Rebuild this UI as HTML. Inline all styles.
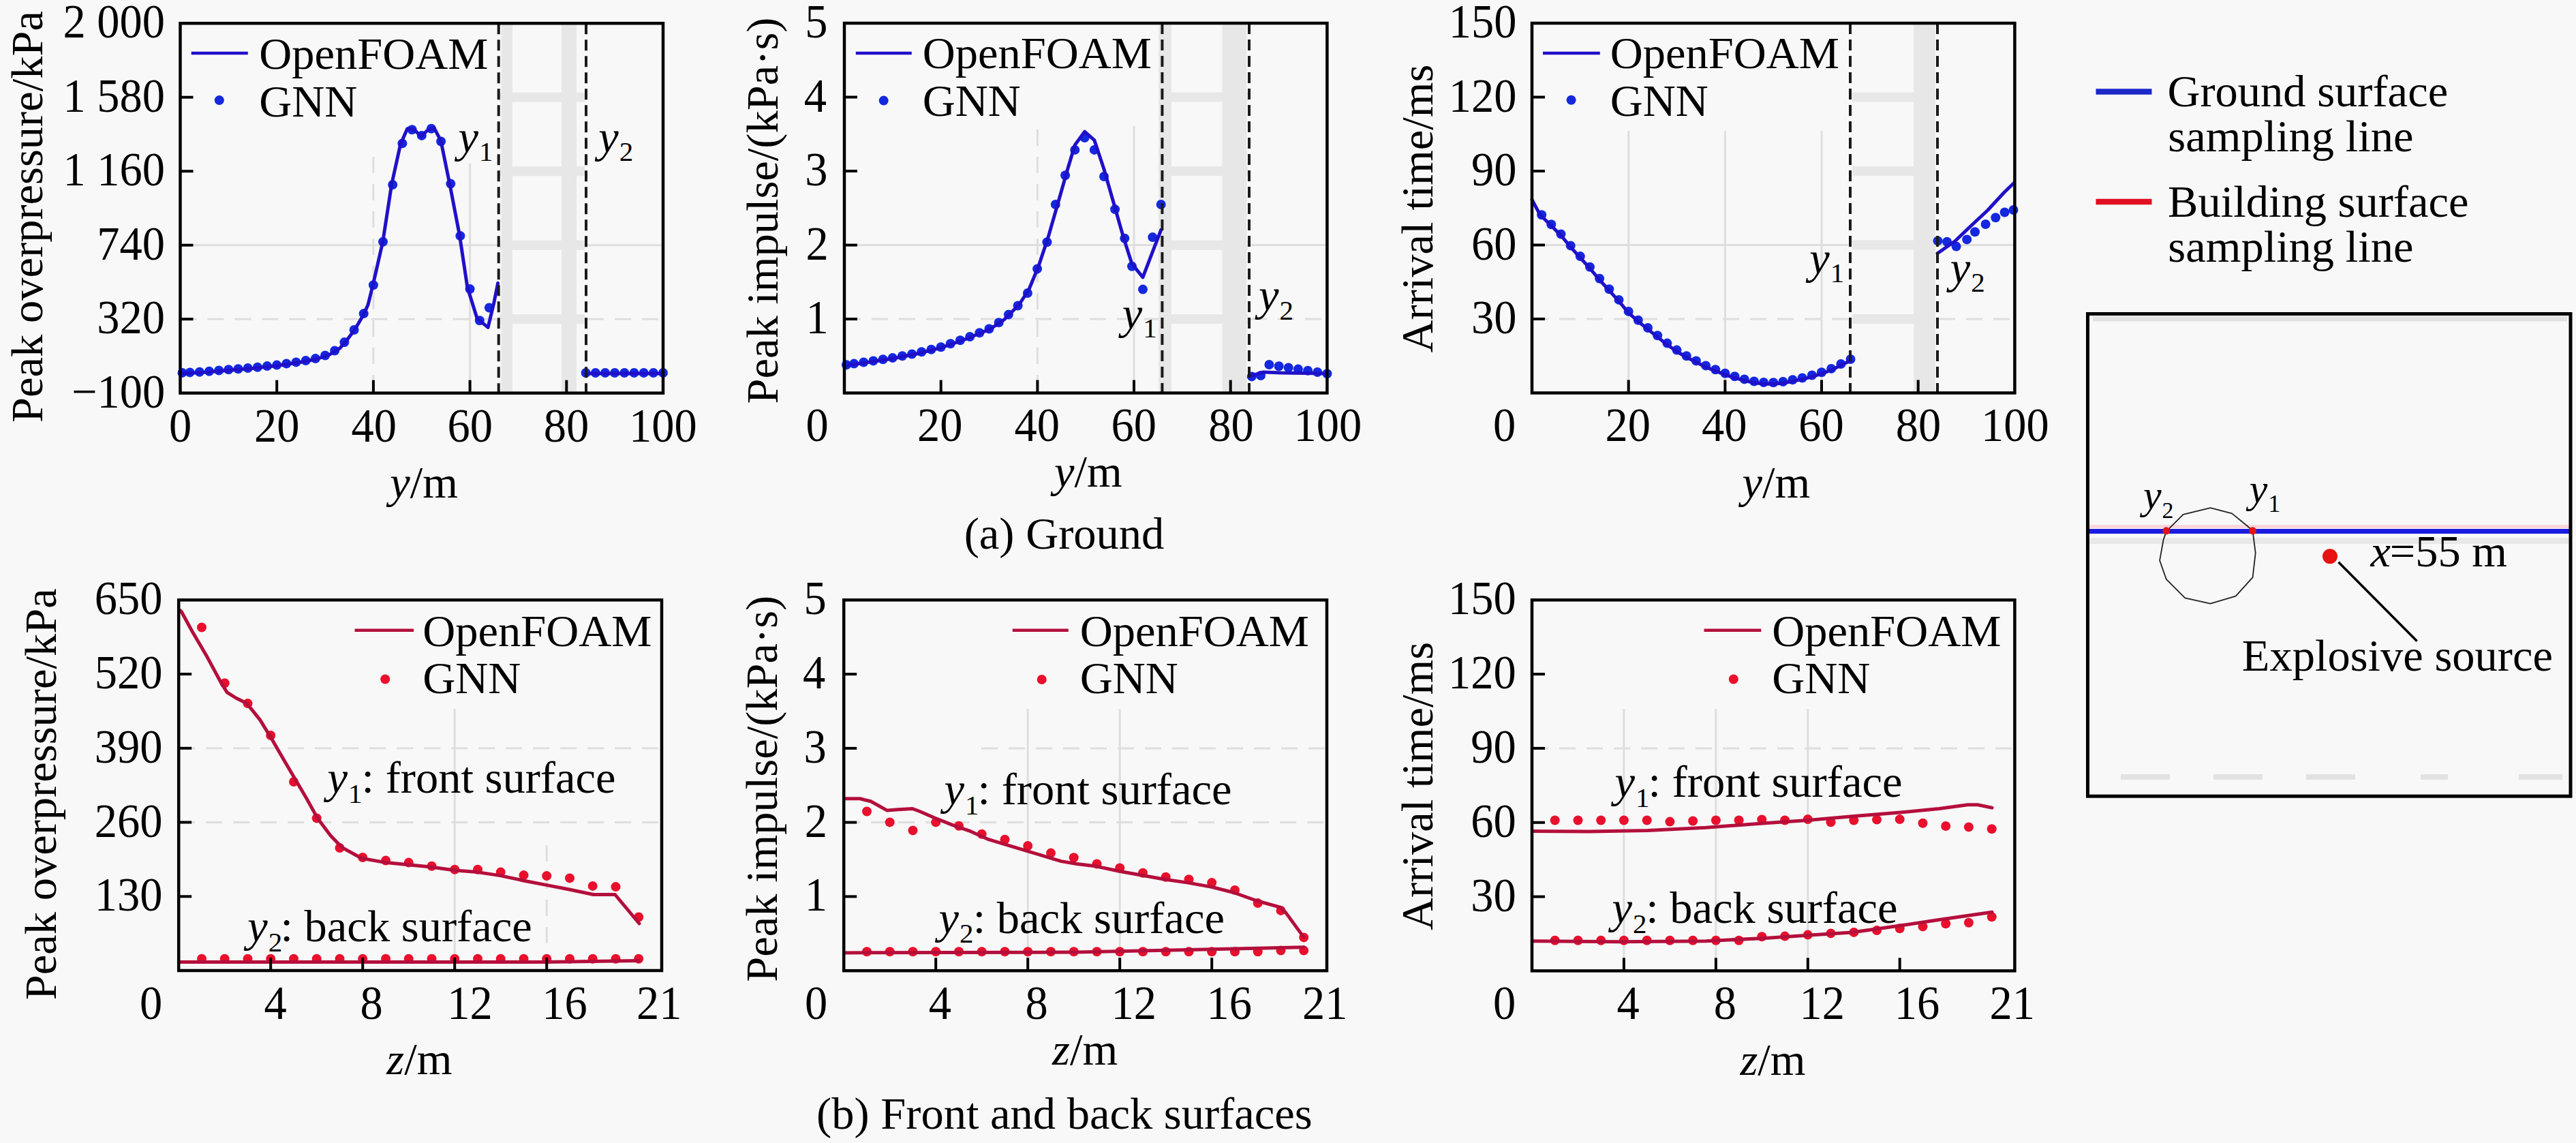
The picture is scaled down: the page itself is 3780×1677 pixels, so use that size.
<!DOCTYPE html>
<html><head><meta charset="utf-8"><title>Figure</title>
<style>html,body{margin:0;padding:0;background:#f8f8f8;}svg{display:block;}
text{font-family:"Liberation Serif","Times New Roman",serif;fill:#000;}</style></head>
<body><svg width="3780" height="1677" viewBox="0 0 3780 1677">
<rect width="3780" height="1677" fill="#f8f8f8"/>
<line x1="264.5" y1="359.7" x2="733.0" y2="359.7" stroke="#dedede" stroke-width="3"/>
<line x1="264.5" y1="468.2" x2="733.0" y2="468.2" stroke="#dedede" stroke-width="3" stroke-dasharray="24 16"/>
<line x1="547.9" y1="230.0" x2="547.9" y2="576.7" stroke="#dedede" stroke-width="3" stroke-dasharray="24 16"/>
<line x1="689.6" y1="240.0" x2="689.6" y2="576.7" stroke="#dedede" stroke-width="3"/>
<line x1="862.0" y1="359.7" x2="973.0" y2="359.7" stroke="#dedede" stroke-width="3"/>
<line x1="862.0" y1="468.2" x2="973.0" y2="468.2" stroke="#dedede" stroke-width="3" stroke-dasharray="24 16"/>
<rect x="735.5" y="34.2" width="16.3" height="542.5" fill="#e7e7e7"/>
<rect x="824.0" y="34.2" width="22.0" height="542.5" fill="#e7e7e7"/>
<rect x="733.0" y="135.7" width="125.0" height="14.0" fill="#e7e7e7"/>
<rect x="733.0" y="244.2" width="125.0" height="14.0" fill="#e7e7e7"/>
<rect x="733.0" y="352.7" width="125.0" height="14.0" fill="#e7e7e7"/>
<rect x="733.0" y="461.2" width="125.0" height="14.0" fill="#e7e7e7"/>
<circle cx="267.5" cy="546.9" r="7" fill="#1428e0"/>
<circle cx="278.7" cy="546.4" r="7" fill="#1428e0"/>
<circle cx="292.8" cy="545.7" r="7" fill="#1428e0"/>
<circle cx="307.0" cy="544.7" r="7" fill="#1428e0"/>
<circle cx="321.2" cy="543.5" r="7" fill="#1428e0"/>
<circle cx="335.4" cy="542.3" r="7" fill="#1428e0"/>
<circle cx="349.5" cy="541.2" r="7" fill="#1428e0"/>
<circle cx="363.7" cy="540.0" r="7" fill="#1428e0"/>
<circle cx="377.9" cy="538.7" r="7" fill="#1428e0"/>
<circle cx="392.0" cy="537.1" r="7" fill="#1428e0"/>
<circle cx="406.2" cy="535.6" r="7" fill="#1428e0"/>
<circle cx="420.4" cy="533.5" r="7" fill="#1428e0"/>
<circle cx="434.5" cy="531.4" r="7" fill="#1428e0"/>
<circle cx="448.7" cy="529.0" r="7" fill="#1428e0"/>
<circle cx="462.9" cy="526.1" r="7" fill="#1428e0"/>
<circle cx="477.1" cy="521.5" r="7" fill="#1428e0"/>
<circle cx="491.2" cy="514.5" r="7" fill="#1428e0"/>
<circle cx="505.4" cy="502.1" r="7" fill="#1428e0"/>
<circle cx="519.6" cy="484.0" r="7" fill="#1428e0"/>
<circle cx="533.7" cy="460.1" r="7" fill="#1428e0"/>
<circle cx="547.9" cy="418.3" r="7" fill="#1428e0"/>
<circle cx="562.0" cy="354.8" r="7" fill="#1428e0"/>
<circle cx="576.2" cy="271.0" r="7" fill="#1428e0"/>
<circle cx="590.4" cy="210.4" r="7" fill="#1428e0"/>
<circle cx="604.6" cy="190.2" r="7" fill="#1428e0"/>
<circle cx="618.8" cy="198.9" r="7" fill="#1428e0"/>
<circle cx="632.9" cy="188.8" r="7" fill="#1428e0"/>
<circle cx="647.1" cy="207.5" r="7" fill="#1428e0"/>
<circle cx="661.3" cy="269.6" r="7" fill="#1428e0"/>
<circle cx="675.4" cy="346.1" r="7" fill="#1428e0"/>
<circle cx="689.6" cy="424.1" r="7" fill="#1428e0"/>
<circle cx="703.8" cy="470.3" r="7" fill="#1428e0"/>
<circle cx="717.9" cy="451.5" r="7" fill="#1428e0"/>
<circle cx="859.6" cy="547.0" r="7" fill="#1428e0"/>
<circle cx="873.8" cy="547.0" r="7" fill="#1428e0"/>
<circle cx="888.0" cy="547.0" r="7" fill="#1428e0"/>
<circle cx="902.1" cy="547.0" r="7" fill="#1428e0"/>
<circle cx="916.3" cy="547.0" r="7" fill="#1428e0"/>
<circle cx="930.5" cy="547.0" r="7" fill="#1428e0"/>
<circle cx="944.7" cy="547.0" r="7" fill="#1428e0"/>
<circle cx="958.8" cy="547.0" r="7" fill="#1428e0"/>
<circle cx="973.0" cy="547.0" r="7" fill="#1428e0"/>
<polyline points="265.5,548.0 296.7,546.5 333.5,543.5 370.2,540.5 407.0,536.5 443.7,531.0 465.7,526.5 484.1,520.0 498.8,510.8 509.8,498.0 520.8,483.3 533.7,461.2 540.0,447.2 547.2,418.3 561.7,354.8 574.6,271.0 587.6,211.9 597.7,188.8 607.8,190.2 618.0,200.3 626.6,191.7 636.7,187.3 646.8,206.1 659.8,269.6 674.3,344.7 685.8,421.2 700.2,467.4 716.1,480.4 724.8,444.3 730.6,415.4" fill="none" stroke="#2010c8" stroke-width="5" stroke-linejoin="round" stroke-linecap="round"/>
<polyline points="860.0,548.0 973.0,548.0" fill="none" stroke="#2010c8" stroke-width="5" stroke-linejoin="round" stroke-linecap="round"/>
<line x1="731.7" y1="34.2" x2="731.7" y2="576.7" stroke="#1a1a1a" stroke-width="4" stroke-dasharray="16 8"/>
<line x1="860.0" y1="34.2" x2="860.0" y2="576.7" stroke="#1a1a1a" stroke-width="4" stroke-dasharray="16 8"/>
<rect x="264.5" y="34.2" width="708.5" height="542.5" fill="none" stroke="#000" stroke-width="4.5"/>
<line x1="264.5" y1="142.7" x2="283.5" y2="142.7" stroke="#000" stroke-width="4"/>
<line x1="264.5" y1="251.2" x2="283.5" y2="251.2" stroke="#000" stroke-width="4"/>
<line x1="264.5" y1="359.7" x2="283.5" y2="359.7" stroke="#000" stroke-width="4"/>
<line x1="264.5" y1="468.2" x2="283.5" y2="468.2" stroke="#000" stroke-width="4"/>
<line x1="406.2" y1="576.7" x2="406.2" y2="557.7" stroke="#000" stroke-width="4"/>
<line x1="547.9" y1="576.7" x2="547.9" y2="557.7" stroke="#000" stroke-width="4"/>
<line x1="689.6" y1="576.7" x2="689.6" y2="557.7" stroke="#000" stroke-width="4"/>
<line x1="831.3" y1="576.7" x2="831.3" y2="557.7" stroke="#000" stroke-width="4"/>
<text transform="translate(242.1,55.2) scale(1,1.045)" font-size="66.5" text-anchor="end">2 000</text>
<text transform="translate(242.1,163.7) scale(1,1.045)" font-size="66.5" text-anchor="end">1 580</text>
<text transform="translate(242.1,272.2) scale(1,1.045)" font-size="66.5" text-anchor="end">1 160</text>
<text transform="translate(242.1,380.7) scale(1,1.045)" font-size="66.5" text-anchor="end">740</text>
<text transform="translate(242.1,489.2) scale(1,1.045)" font-size="66.5" text-anchor="end">320</text>
<text transform="translate(242.3,597.7) scale(1,1.045)" font-size="66.5" text-anchor="end">−100</text>
<text transform="translate(247.9,648.0) scale(1,1.045)" font-size="66.5">0</text>
<text transform="translate(372.9,648.0) scale(1,1.045)" font-size="66.5">20</text>
<text transform="translate(515.4,648.0) scale(1,1.045)" font-size="66.5">40</text>
<text transform="translate(656.4,648.0) scale(1,1.045)" font-size="66.5">60</text>
<text transform="translate(797.8,648.0) scale(1,1.045)" font-size="66.5">80</text>
<text transform="translate(923.0,648.0) scale(1,1.045)" font-size="66.5">100</text>
<text transform="translate(572.3,729.5) scale(1,1.0)" font-size="66.5"><tspan font-style="italic">y</tspan>/m</text>
<text transform="translate(61.6,619.9) rotate(-90) scale(1,1.0)" font-size="66.5">Peak overpressure/kPa</text>
<line x1="280.7" y1="78.0" x2="363.8" y2="78.0" stroke="#2010c8" stroke-width="4.5"/>
<circle cx="321.8" cy="147.1" r="7" fill="#1428e0"/>
<text transform="translate(380.2,100.7) scale(1,1.0)" font-size="66.5">OpenFOAM</text>
<text transform="translate(380.2,171.0) scale(1,1.0)" font-size="66.5">GNN</text>
<text transform="translate(672.4,222.9) scale(1,1.0)" font-size="66.5" font-style="italic">y</text>
<text transform="translate(702.9,236.4) scale(1,1.0)" font-size="41">1</text>
<text transform="translate(878.3,222.9) scale(1,1.0)" font-size="66.5" font-style="italic">y</text>
<text transform="translate(908.8,236.4) scale(1,1.0)" font-size="41">2</text>
<line x1="1239.0" y1="359.6" x2="1700.0" y2="359.6" stroke="#dedede" stroke-width="3"/>
<line x1="1239.0" y1="468.1" x2="1700.0" y2="468.1" stroke="#dedede" stroke-width="3" stroke-dasharray="24 16"/>
<line x1="1522.4" y1="190.0" x2="1522.4" y2="576.6" stroke="#dedede" stroke-width="3" stroke-dasharray="24 16"/>
<line x1="1664.0" y1="185.0" x2="1664.0" y2="576.6" stroke="#dedede" stroke-width="3"/>
<line x1="1835.0" y1="359.6" x2="1947.4" y2="359.6" stroke="#dedede" stroke-width="3"/>
<line x1="1835.0" y1="468.1" x2="1947.4" y2="468.1" stroke="#dedede" stroke-width="3" stroke-dasharray="24 16"/>
<rect x="1700.0" y="34.0" width="19.0" height="542.6" fill="#e7e7e7"/>
<rect x="1793.5" y="34.0" width="36.0" height="542.6" fill="#e7e7e7"/>
<rect x="1709.0" y="135.5" width="122.0" height="14.0" fill="#e7e7e7"/>
<rect x="1709.0" y="244.0" width="122.0" height="14.0" fill="#e7e7e7"/>
<rect x="1709.0" y="352.6" width="122.0" height="14.0" fill="#e7e7e7"/>
<rect x="1709.0" y="461.1" width="122.0" height="14.0" fill="#e7e7e7"/>
<circle cx="1242.0" cy="535.2" r="7" fill="#1428e0"/>
<circle cx="1253.2" cy="533.6" r="7" fill="#1428e0"/>
<circle cx="1267.3" cy="531.5" r="7" fill="#1428e0"/>
<circle cx="1281.5" cy="529.4" r="7" fill="#1428e0"/>
<circle cx="1295.7" cy="527.2" r="7" fill="#1428e0"/>
<circle cx="1309.8" cy="525.1" r="7" fill="#1428e0"/>
<circle cx="1324.0" cy="522.3" r="7" fill="#1428e0"/>
<circle cx="1338.2" cy="519.5" r="7" fill="#1428e0"/>
<circle cx="1352.3" cy="516.3" r="7" fill="#1428e0"/>
<circle cx="1366.5" cy="512.8" r="7" fill="#1428e0"/>
<circle cx="1380.7" cy="509.2" r="7" fill="#1428e0"/>
<circle cx="1394.8" cy="504.3" r="7" fill="#1428e0"/>
<circle cx="1409.0" cy="499.3" r="7" fill="#1428e0"/>
<circle cx="1423.2" cy="494.0" r="7" fill="#1428e0"/>
<circle cx="1437.4" cy="488.3" r="7" fill="#1428e0"/>
<circle cx="1451.5" cy="482.5" r="7" fill="#1428e0"/>
<circle cx="1465.7" cy="473.2" r="7" fill="#1428e0"/>
<circle cx="1479.9" cy="461.6" r="7" fill="#1428e0"/>
<circle cx="1493.6" cy="448.5" r="7" fill="#1428e0"/>
<circle cx="1507.9" cy="430.0" r="7" fill="#1428e0"/>
<circle cx="1522.1" cy="394.4" r="7" fill="#1428e0"/>
<circle cx="1536.4" cy="355.2" r="7" fill="#1428e0"/>
<circle cx="1548.8" cy="300.0" r="7" fill="#1428e0"/>
<circle cx="1563.1" cy="257.3" r="7" fill="#1428e0"/>
<circle cx="1577.3" cy="219.9" r="7" fill="#1428e0"/>
<circle cx="1591.6" cy="202.0" r="7" fill="#1428e0"/>
<circle cx="1605.8" cy="219.9" r="7" fill="#1428e0"/>
<circle cx="1620.0" cy="259.0" r="7" fill="#1428e0"/>
<circle cx="1636.1" cy="307.1" r="7" fill="#1428e0"/>
<circle cx="1650.3" cy="349.8" r="7" fill="#1428e0"/>
<circle cx="1661.0" cy="390.8" r="7" fill="#1428e0"/>
<circle cx="1677.0" cy="424.6" r="7" fill="#1428e0"/>
<circle cx="1691.3" cy="348.1" r="7" fill="#1428e0"/>
<circle cx="1703.7" cy="300.0" r="7" fill="#1428e0"/>
<circle cx="1836.8" cy="552.4" r="7" fill="#1428e0"/>
<circle cx="1850.0" cy="551.0" r="7" fill="#1428e0"/>
<circle cx="1862.4" cy="535.0" r="7" fill="#1428e0"/>
<circle cx="1876.6" cy="537.2" r="7" fill="#1428e0"/>
<circle cx="1890.7" cy="539.4" r="7" fill="#1428e0"/>
<circle cx="1904.9" cy="541.6" r="7" fill="#1428e0"/>
<circle cx="1919.1" cy="543.8" r="7" fill="#1428e0"/>
<circle cx="1933.2" cy="546.0" r="7" fill="#1428e0"/>
<circle cx="1947.4" cy="548.2" r="7" fill="#1428e0"/>
<polyline points="1240.0,536.5 1274.6,531.5 1310.2,526.0 1345.8,519.0 1381.4,510.0 1417.1,497.5 1452.7,483.0 1474.0,468.5 1495.4,447.0 1509.7,425.0 1523.9,390.8 1538.1,348.1 1552.4,298.2 1566.6,248.3 1577.3,212.7 1591.6,193.1 1605.8,205.6 1620.0,248.3 1634.3,298.2 1648.5,348.1 1661.0,387.2 1677.0,406.8 1691.3,369.4 1703.7,337.4" fill="none" stroke="#2010c8" stroke-width="5" stroke-linejoin="round" stroke-linecap="round"/>
<polyline points="1834.4,552.0 1853.7,546.0 1880.0,547.0 1946.0,548.0" fill="none" stroke="#2010c8" stroke-width="5" stroke-linejoin="round" stroke-linecap="round"/>
<line x1="1705.4" y1="34.0" x2="1705.4" y2="576.6" stroke="#1a1a1a" stroke-width="4" stroke-dasharray="16 8"/>
<line x1="1833.0" y1="34.0" x2="1833.0" y2="576.6" stroke="#1a1a1a" stroke-width="4" stroke-dasharray="16 8"/>
<rect x="1239.0" y="34.0" width="708.4" height="542.6" fill="none" stroke="#000" stroke-width="4.5"/>
<line x1="1239.0" y1="142.5" x2="1258.0" y2="142.5" stroke="#000" stroke-width="4"/>
<line x1="1239.0" y1="251.0" x2="1258.0" y2="251.0" stroke="#000" stroke-width="4"/>
<line x1="1239.0" y1="359.6" x2="1258.0" y2="359.6" stroke="#000" stroke-width="4"/>
<line x1="1239.0" y1="468.1" x2="1258.0" y2="468.1" stroke="#000" stroke-width="4"/>
<line x1="1380.7" y1="576.6" x2="1380.7" y2="557.6" stroke="#000" stroke-width="4"/>
<line x1="1522.4" y1="576.6" x2="1522.4" y2="557.6" stroke="#000" stroke-width="4"/>
<line x1="1664.0" y1="576.6" x2="1664.0" y2="557.6" stroke="#000" stroke-width="4"/>
<line x1="1805.7" y1="576.6" x2="1805.7" y2="557.6" stroke="#000" stroke-width="4"/>
<text transform="translate(1214.4,55.0) scale(1,1.045)" font-size="66.5" text-anchor="end">5</text>
<text transform="translate(1213.0,163.5) scale(1,1.045)" font-size="66.5" text-anchor="end">4</text>
<text transform="translate(1214.4,272.0) scale(1,1.045)" font-size="66.5" text-anchor="end">3</text>
<text transform="translate(1215.7,380.6) scale(1,1.045)" font-size="66.5" text-anchor="end">2</text>
<text transform="translate(1215.7,489.1) scale(1,1.045)" font-size="66.5" text-anchor="end">1</text>
<text transform="translate(1182.6,647.0) scale(1,1.045)" font-size="66.5">0</text>
<text transform="translate(1346.0,647.0) scale(1,1.045)" font-size="66.5">20</text>
<text transform="translate(1488.5,647.0) scale(1,1.045)" font-size="66.5">40</text>
<text transform="translate(1630.5,647.0) scale(1,1.045)" font-size="66.5">60</text>
<text transform="translate(1773.2,647.0) scale(1,1.045)" font-size="66.5">80</text>
<text transform="translate(1898.5,647.0) scale(1,1.045)" font-size="66.5">100</text>
<text transform="translate(1547.0,713.7) scale(1,1.0)" font-size="66.5"><tspan font-style="italic">y</tspan>/m</text>
<text transform="translate(1140.9,592.6) rotate(-90) scale(1,1.0)" font-size="66.5">Peak impulse/(kPa·s)</text>
<line x1="1255.8" y1="78.0" x2="1337.8" y2="78.0" stroke="#2010c8" stroke-width="4.5"/>
<circle cx="1296.7" cy="147.6" r="7" fill="#1428e0"/>
<text transform="translate(1353.8,100.3) scale(1,1.0)" font-size="66.5">OpenFOAM</text>
<text transform="translate(1353.8,169.8) scale(1,1.0)" font-size="66.5">GNN</text>
<text transform="translate(1646.7,481.9) scale(1,1.0)" font-size="66.5" font-style="italic">y</text>
<text transform="translate(1677.2,495.4) scale(1,1.0)" font-size="41">1</text>
<text transform="translate(1847.0,455.4) scale(1,1.0)" font-size="66.5" font-style="italic">y</text>
<text transform="translate(1877.5,468.9) scale(1,1.0)" font-size="41">2</text>
<line x1="2248.0" y1="359.5" x2="2712.0" y2="359.5" stroke="#dedede" stroke-width="3"/>
<line x1="2248.0" y1="468.0" x2="2712.0" y2="468.0" stroke="#dedede" stroke-width="3" stroke-dasharray="24 16"/>
<line x1="2845.0" y1="359.5" x2="2956.4" y2="359.5" stroke="#dedede" stroke-width="3"/>
<line x1="2845.0" y1="468.0" x2="2956.4" y2="468.0" stroke="#dedede" stroke-width="3" stroke-dasharray="24 16"/>
<line x1="2389.7" y1="192.0" x2="2389.7" y2="576.5" stroke="#dedede" stroke-width="3"/>
<line x1="2531.4" y1="192.0" x2="2531.4" y2="576.5" stroke="#dedede" stroke-width="3"/>
<line x1="2673.0" y1="192.0" x2="2673.0" y2="576.5" stroke="#dedede" stroke-width="3"/>
<rect x="2808.3" y="34.0" width="31.3" height="542.5" fill="#e7e7e7"/>
<rect x="2718.0" y="135.5" width="122.0" height="14.0" fill="#e7e7e7"/>
<rect x="2718.0" y="244.0" width="122.0" height="14.0" fill="#e7e7e7"/>
<rect x="2718.0" y="352.5" width="122.0" height="14.0" fill="#e7e7e7"/>
<rect x="2718.0" y="461.0" width="122.0" height="14.0" fill="#e7e7e7"/>
<circle cx="2262.2" cy="315.2" r="7" fill="#1428e0"/>
<circle cx="2276.3" cy="329.2" r="7" fill="#1428e0"/>
<circle cx="2290.5" cy="343.4" r="7" fill="#1428e0"/>
<circle cx="2304.7" cy="360.4" r="7" fill="#1428e0"/>
<circle cx="2318.8" cy="376.1" r="7" fill="#1428e0"/>
<circle cx="2333.0" cy="391.7" r="7" fill="#1428e0"/>
<circle cx="2347.2" cy="408.7" r="7" fill="#1428e0"/>
<circle cx="2361.3" cy="424.3" r="7" fill="#1428e0"/>
<circle cx="2375.5" cy="439.9" r="7" fill="#1428e0"/>
<circle cx="2389.7" cy="456.9" r="7" fill="#1428e0"/>
<circle cx="2403.8" cy="469.7" r="7" fill="#1428e0"/>
<circle cx="2418.0" cy="481.0" r="7" fill="#1428e0"/>
<circle cx="2432.2" cy="492.3" r="7" fill="#1428e0"/>
<circle cx="2446.4" cy="503.6" r="7" fill="#1428e0"/>
<circle cx="2460.5" cy="513.6" r="7" fill="#1428e0"/>
<circle cx="2474.7" cy="522.2" r="7" fill="#1428e0"/>
<circle cx="2488.9" cy="529.4" r="7" fill="#1428e0"/>
<circle cx="2503.0" cy="536.4" r="7" fill="#1428e0"/>
<circle cx="2517.2" cy="542.2" r="7" fill="#1428e0"/>
<circle cx="2531.4" cy="547.8" r="7" fill="#1428e0"/>
<circle cx="2545.5" cy="552.2" r="7" fill="#1428e0"/>
<circle cx="2559.7" cy="556.4" r="7" fill="#1428e0"/>
<circle cx="2573.9" cy="559.5" r="7" fill="#1428e0"/>
<circle cx="2588.0" cy="561.0" r="7" fill="#1428e0"/>
<circle cx="2602.2" cy="561.2" r="7" fill="#1428e0"/>
<circle cx="2616.4" cy="560.0" r="7" fill="#1428e0"/>
<circle cx="2630.5" cy="557.3" r="7" fill="#1428e0"/>
<circle cx="2644.7" cy="554.5" r="7" fill="#1428e0"/>
<circle cx="2658.9" cy="550.5" r="7" fill="#1428e0"/>
<circle cx="2673.0" cy="546.3" r="7" fill="#1428e0"/>
<circle cx="2687.2" cy="540.9" r="7" fill="#1428e0"/>
<circle cx="2701.4" cy="534.0" r="7" fill="#1428e0"/>
<circle cx="2715.5" cy="527.0" r="7" fill="#1428e0"/>
<circle cx="2843.5" cy="353.4" r="7" fill="#1428e0"/>
<circle cx="2857.0" cy="354.8" r="7" fill="#1428e0"/>
<circle cx="2870.6" cy="361.6" r="7" fill="#1428e0"/>
<circle cx="2886.2" cy="351.4" r="7" fill="#1428e0"/>
<circle cx="2898.0" cy="340.2" r="7" fill="#1428e0"/>
<circle cx="2913.6" cy="329.0" r="7" fill="#1428e0"/>
<circle cx="2928.3" cy="319.2" r="7" fill="#1428e0"/>
<circle cx="2941.6" cy="311.5" r="7" fill="#1428e0"/>
<circle cx="2954.5" cy="308.0" r="7" fill="#1428e0"/>
<polyline points="2248.0,292.9 2259.4,314.4 2276.6,331.5 2290.9,345.8 2305.2,363.0 2318.1,377.3 2332.4,393.0 2346.7,410.2 2361.0,425.9 2375.3,441.6 2389.6,458.8 2403.9,471.7 2418.2,483.1 2432.5,494.6 2446.8,506.0 2461.1,516.0 2475.4,524.6 2489.7,531.8 2504.0,538.9 2518.3,544.6 2532.6,550.3 2546.9,554.6 2561.2,558.9 2575.5,561.8 2589.8,563.2 2604.1,563.2 2618.4,561.8 2632.7,558.9 2647.0,556.1 2661.3,551.8 2675.6,547.5 2689.9,541.8 2704.2,534.6 2715.7,528.9" fill="none" stroke="#2010c8" stroke-width="5" stroke-linejoin="round" stroke-linecap="round"/>
<polyline points="2843.0,371.8 2868.5,354.0 2892.6,331.0 2916.7,308.5 2940.7,282.5 2955.2,268.5" fill="none" stroke="#2010c8" stroke-width="5" stroke-linejoin="round" stroke-linecap="round"/>
<line x1="2715.0" y1="34.0" x2="2715.0" y2="576.5" stroke="#1a1a1a" stroke-width="4" stroke-dasharray="16 8"/>
<line x1="2843.0" y1="34.0" x2="2843.0" y2="576.5" stroke="#1a1a1a" stroke-width="4" stroke-dasharray="16 8"/>
<rect x="2248.0" y="34.0" width="708.4" height="542.5" fill="none" stroke="#000" stroke-width="4.5"/>
<line x1="2248.0" y1="142.5" x2="2267.0" y2="142.5" stroke="#000" stroke-width="4"/>
<line x1="2248.0" y1="251.0" x2="2267.0" y2="251.0" stroke="#000" stroke-width="4"/>
<line x1="2248.0" y1="359.5" x2="2267.0" y2="359.5" stroke="#000" stroke-width="4"/>
<line x1="2248.0" y1="468.0" x2="2267.0" y2="468.0" stroke="#000" stroke-width="4"/>
<line x1="2389.7" y1="576.5" x2="2389.7" y2="557.5" stroke="#000" stroke-width="4"/>
<line x1="2531.4" y1="576.5" x2="2531.4" y2="557.5" stroke="#000" stroke-width="4"/>
<line x1="2673.0" y1="576.5" x2="2673.0" y2="557.5" stroke="#000" stroke-width="4"/>
<line x1="2814.7" y1="576.5" x2="2814.7" y2="557.5" stroke="#000" stroke-width="4"/>
<text transform="translate(2225.4,55.0) scale(1,1.045)" font-size="66.5" text-anchor="end">150</text>
<text transform="translate(2225.4,163.5) scale(1,1.045)" font-size="66.5" text-anchor="end">120</text>
<text transform="translate(2225.4,272.0) scale(1,1.045)" font-size="66.5" text-anchor="end">90</text>
<text transform="translate(2225.4,380.5) scale(1,1.045)" font-size="66.5" text-anchor="end">60</text>
<text transform="translate(2225.4,489.0) scale(1,1.045)" font-size="66.5" text-anchor="end">30</text>
<text transform="translate(2191.1,647.0) scale(1,1.045)" font-size="66.5">0</text>
<text transform="translate(2355.4,647.0) scale(1,1.045)" font-size="66.5">20</text>
<text transform="translate(2497.1,647.0) scale(1,1.045)" font-size="66.5">40</text>
<text transform="translate(2639.2,647.0) scale(1,1.045)" font-size="66.5">60</text>
<text transform="translate(2781.8,647.0) scale(1,1.045)" font-size="66.5">80</text>
<text transform="translate(2907.0,647.0) scale(1,1.045)" font-size="66.5">100</text>
<text transform="translate(2556.4,730.0) scale(1,1.0)" font-size="66.5"><tspan font-style="italic">y</tspan>/m</text>
<text transform="translate(2101.7,517.5) rotate(-90) scale(1,1.0)" font-size="66.5">Arrival time/ms</text>
<line x1="2264.0" y1="78.0" x2="2347.8" y2="78.0" stroke="#2010c8" stroke-width="4.5"/>
<circle cx="2305.6" cy="146.7" r="7" fill="#1428e0"/>
<text transform="translate(2362.8,100.3) scale(1,1.0)" font-size="66.5">OpenFOAM</text>
<text transform="translate(2362.8,169.8) scale(1,1.0)" font-size="66.5">GNN</text>
<text transform="translate(2655.2,400.7) scale(1,1.0)" font-size="66.5" font-style="italic">y</text>
<text transform="translate(2685.7,414.2) scale(1,1.0)" font-size="41">1</text>
<text transform="translate(2861.8,414.5) scale(1,1.0)" font-size="66.5" font-style="italic">y</text>
<text transform="translate(2892.3,428.0) scale(1,1.0)" font-size="41">2</text>
<line x1="262.2" y1="1097.8" x2="971.0" y2="1097.8" stroke="#dedede" stroke-width="3" stroke-dasharray="24 16"/>
<line x1="262.2" y1="1206.5" x2="971.0" y2="1206.5" stroke="#dedede" stroke-width="3" stroke-dasharray="24 16"/>
<line x1="667.2" y1="1040.0" x2="667.2" y2="1424.0" stroke="#dedede" stroke-width="3"/>
<line x1="802.2" y1="1240.0" x2="802.2" y2="1424.0" stroke="#dedede" stroke-width="3" stroke-dasharray="24 16"/>
<circle cx="296.0" cy="920.5" r="7" fill="#e8102c"/>
<circle cx="329.7" cy="1002.3" r="7" fill="#e8102c"/>
<circle cx="363.5" cy="1032.1" r="7" fill="#e8102c"/>
<circle cx="397.2" cy="1079.0" r="7" fill="#e8102c"/>
<circle cx="431.0" cy="1147.0" r="7" fill="#e8102c"/>
<circle cx="464.7" cy="1200.4" r="7" fill="#e8102c"/>
<circle cx="498.5" cy="1244.0" r="7" fill="#e8102c"/>
<circle cx="532.2" cy="1258.0" r="7" fill="#e8102c"/>
<circle cx="566.0" cy="1262.6" r="7" fill="#e8102c"/>
<circle cx="599.7" cy="1265.6" r="7" fill="#e8102c"/>
<circle cx="633.5" cy="1270.7" r="7" fill="#e8102c"/>
<circle cx="667.2" cy="1275.8" r="7" fill="#e8102c"/>
<circle cx="701.0" cy="1275.8" r="7" fill="#e8102c"/>
<circle cx="734.7" cy="1279.6" r="7" fill="#e8102c"/>
<circle cx="768.5" cy="1284.1" r="7" fill="#e8102c"/>
<circle cx="802.2" cy="1285.1" r="7" fill="#e8102c"/>
<circle cx="836.0" cy="1288.4" r="7" fill="#e8102c"/>
<circle cx="869.7" cy="1299.9" r="7" fill="#e8102c"/>
<circle cx="903.5" cy="1301.1" r="7" fill="#e8102c"/>
<circle cx="937.2" cy="1345.5" r="7" fill="#e8102c"/>
<circle cx="296.0" cy="1406.8" r="7" fill="#e8102c"/>
<circle cx="329.7" cy="1406.8" r="7" fill="#e8102c"/>
<circle cx="363.5" cy="1406.8" r="7" fill="#e8102c"/>
<circle cx="397.2" cy="1406.8" r="7" fill="#e8102c"/>
<circle cx="431.0" cy="1406.8" r="7" fill="#e8102c"/>
<circle cx="464.7" cy="1406.8" r="7" fill="#e8102c"/>
<circle cx="498.5" cy="1406.8" r="7" fill="#e8102c"/>
<circle cx="532.2" cy="1406.8" r="7" fill="#e8102c"/>
<circle cx="566.0" cy="1406.8" r="7" fill="#e8102c"/>
<circle cx="599.7" cy="1406.8" r="7" fill="#e8102c"/>
<circle cx="633.5" cy="1406.8" r="7" fill="#e8102c"/>
<circle cx="667.2" cy="1406.8" r="7" fill="#e8102c"/>
<circle cx="701.0" cy="1406.8" r="7" fill="#e8102c"/>
<circle cx="734.7" cy="1406.8" r="7" fill="#e8102c"/>
<circle cx="768.5" cy="1406.8" r="7" fill="#e8102c"/>
<circle cx="802.2" cy="1406.8" r="7" fill="#e8102c"/>
<circle cx="836.0" cy="1406.8" r="7" fill="#e8102c"/>
<circle cx="869.7" cy="1406.8" r="7" fill="#e8102c"/>
<circle cx="903.5" cy="1406.8" r="7" fill="#e8102c"/>
<circle cx="937.2" cy="1406.8" r="7" fill="#e8102c"/>
<polyline points="264.0,895.5 266.0,897.0 281.4,925.3 304.1,964.1 325.1,1003.0 333.2,1015.9 346.1,1024.0 362.3,1032.1 381.7,1056.4 399.5,1085.5 417.3,1116.3 433.5,1143.8 449.7,1171.3 465.9,1200.4 485.3,1226.3 495.2,1236.4 502.8,1244.0 530.7,1259.3 566.3,1265.6 632.2,1272.0 667.8,1277.0 700.8,1279.6 733.7,1284.6 769.3,1292.2 802.3,1298.6 835.2,1305.0 870.8,1312.5 902.5,1312.5 938.0,1355.0" fill="none" stroke="#b40f3c" stroke-width="5" stroke-linejoin="round" stroke-linecap="round"/>
<polyline points="264.0,1411.5 800.0,1411.5 938.0,1409.5" fill="none" stroke="#b40f3c" stroke-width="5" stroke-linejoin="round" stroke-linecap="round"/>
<rect x="262.2" y="880.3" width="708.8" height="543.7" fill="none" stroke="#000" stroke-width="4.5"/>
<line x1="262.2" y1="989.0" x2="281.2" y2="989.0" stroke="#000" stroke-width="4"/>
<line x1="262.2" y1="1097.8" x2="281.2" y2="1097.8" stroke="#000" stroke-width="4"/>
<line x1="262.2" y1="1206.5" x2="281.2" y2="1206.5" stroke="#000" stroke-width="4"/>
<line x1="262.2" y1="1315.3" x2="281.2" y2="1315.3" stroke="#000" stroke-width="4"/>
<line x1="397.2" y1="1424.0" x2="397.2" y2="1405.0" stroke="#000" stroke-width="4"/>
<line x1="532.2" y1="1424.0" x2="532.2" y2="1405.0" stroke="#000" stroke-width="4"/>
<line x1="667.2" y1="1424.0" x2="667.2" y2="1405.0" stroke="#000" stroke-width="4"/>
<line x1="802.2" y1="1424.0" x2="802.2" y2="1405.0" stroke="#000" stroke-width="4"/>
<text transform="translate(238.5,901.3) scale(1,1.045)" font-size="66.5" text-anchor="end">650</text>
<text transform="translate(238.5,1010.0) scale(1,1.045)" font-size="66.5" text-anchor="end">520</text>
<text transform="translate(238.5,1118.8) scale(1,1.045)" font-size="66.5" text-anchor="end">390</text>
<text transform="translate(238.5,1227.5) scale(1,1.045)" font-size="66.5" text-anchor="end">260</text>
<text transform="translate(238.5,1336.3) scale(1,1.045)" font-size="66.5" text-anchor="end">130</text>
<text transform="translate(205.0,1495.0) scale(1,1.045)" font-size="66.5">0</text>
<text transform="translate(387.6,1495.0) scale(1,1.045)" font-size="66.5">4</text>
<text transform="translate(528.6,1495.0) scale(1,1.045)" font-size="66.5">8</text>
<text transform="translate(656.2,1495.0) scale(1,1.045)" font-size="66.5">12</text>
<text transform="translate(795.3,1495.0) scale(1,1.045)" font-size="66.5">16</text>
<text transform="translate(934.0,1495.0) scale(1,1.045)" font-size="66.5">21</text>
<text transform="translate(567.3,1575.6) scale(1,1.0)" font-size="66.5"><tspan font-style="italic">z</tspan>/m</text>
<text transform="translate(81.7,1467.2) rotate(-90) scale(1,1.0)" font-size="66.5">Peak overpressure/kPa</text>
<line x1="520.5" y1="924.7" x2="607.1" y2="924.7" stroke="#b40f3c" stroke-width="4.5"/>
<circle cx="565.2" cy="996.5" r="7" fill="#e8102c"/>
<text transform="translate(620.3,948.0) scale(1,1.0)" font-size="66.5">OpenFOAM</text>
<text transform="translate(620.3,1017.0) scale(1,1.0)" font-size="66.5">GNN</text>
<text transform="translate(480.5,1163.4) scale(1,1.0)" font-size="66.5" font-style="italic">y</text>
<text transform="translate(511.0,1177.9) scale(1,1.0)" font-size="41">1</text>
<text transform="translate(530.6,1163.4) scale(1,1.0)" font-size="66.5">: front surface</text>
<text transform="translate(363.2,1381.4) scale(1,1.0)" font-size="66.5" font-style="italic">y</text>
<text transform="translate(393.7,1395.9) scale(1,1.0)" font-size="41">2</text>
<text transform="translate(411.5,1381.4) scale(1,1.0)" font-size="66.5">: back surface</text>
<line x1="1238.2" y1="1206.6" x2="1947.0" y2="1206.6" stroke="#dedede" stroke-width="3" stroke-dasharray="24 16"/>
<line x1="1440.0" y1="1097.9" x2="1947.0" y2="1097.9" stroke="#dedede" stroke-width="3" stroke-dasharray="24 16"/>
<line x1="1508.2" y1="1040.0" x2="1508.2" y2="1424.2" stroke="#dedede" stroke-width="3"/>
<line x1="1643.2" y1="1040.0" x2="1643.2" y2="1424.2" stroke="#dedede" stroke-width="3"/>
<circle cx="1272.0" cy="1190.5" r="7" fill="#e8102c"/>
<circle cx="1305.7" cy="1206.4" r="7" fill="#e8102c"/>
<circle cx="1339.5" cy="1218.4" r="7" fill="#e8102c"/>
<circle cx="1373.2" cy="1206.4" r="7" fill="#e8102c"/>
<circle cx="1407.0" cy="1211.7" r="7" fill="#e8102c"/>
<circle cx="1440.7" cy="1223.7" r="7" fill="#e8102c"/>
<circle cx="1474.5" cy="1231.7" r="7" fill="#e8102c"/>
<circle cx="1508.2" cy="1241.0" r="7" fill="#e8102c"/>
<circle cx="1542.0" cy="1251.6" r="7" fill="#e8102c"/>
<circle cx="1575.7" cy="1258.3" r="7" fill="#e8102c"/>
<circle cx="1609.5" cy="1267.5" r="7" fill="#e8102c"/>
<circle cx="1643.2" cy="1273.5" r="7" fill="#e8102c"/>
<circle cx="1677.0" cy="1280.7" r="7" fill="#e8102c"/>
<circle cx="1710.7" cy="1286.7" r="7" fill="#e8102c"/>
<circle cx="1744.5" cy="1290.3" r="7" fill="#e8102c"/>
<circle cx="1778.2" cy="1295.1" r="7" fill="#e8102c"/>
<circle cx="1812.0" cy="1305.9" r="7" fill="#e8102c"/>
<circle cx="1845.7" cy="1325.1" r="7" fill="#e8102c"/>
<circle cx="1879.5" cy="1335.9" r="7" fill="#e8102c"/>
<circle cx="1913.2" cy="1375.4" r="7" fill="#e8102c"/>
<circle cx="1272.0" cy="1396.3" r="7" fill="#e8102c"/>
<circle cx="1305.7" cy="1396.3" r="7" fill="#e8102c"/>
<circle cx="1339.5" cy="1396.3" r="7" fill="#e8102c"/>
<circle cx="1373.2" cy="1396.3" r="7" fill="#e8102c"/>
<circle cx="1407.0" cy="1396.3" r="7" fill="#e8102c"/>
<circle cx="1440.7" cy="1396.3" r="7" fill="#e8102c"/>
<circle cx="1474.5" cy="1396.3" r="7" fill="#e8102c"/>
<circle cx="1508.2" cy="1396.3" r="7" fill="#e8102c"/>
<circle cx="1542.0" cy="1396.3" r="7" fill="#e8102c"/>
<circle cx="1575.7" cy="1396.3" r="7" fill="#e8102c"/>
<circle cx="1609.5" cy="1396.3" r="7" fill="#e8102c"/>
<circle cx="1643.2" cy="1396.3" r="7" fill="#e8102c"/>
<circle cx="1677.0" cy="1396.3" r="7" fill="#e8102c"/>
<circle cx="1710.7" cy="1396.3" r="7" fill="#e8102c"/>
<circle cx="1744.5" cy="1396.3" r="7" fill="#e8102c"/>
<circle cx="1778.2" cy="1396.3" r="7" fill="#e8102c"/>
<circle cx="1812.0" cy="1396.3" r="7" fill="#e8102c"/>
<circle cx="1845.7" cy="1396.3" r="7" fill="#e8102c"/>
<circle cx="1879.5" cy="1394.6" r="7" fill="#e8102c"/>
<circle cx="1913.2" cy="1394.6" r="7" fill="#e8102c"/>
<polyline points="1239.0,1171.8 1261.9,1171.8 1277.9,1175.8 1301.8,1189.1 1317.8,1187.8 1339.0,1186.5 1349.7,1190.5 1370.9,1199.8 1397.5,1210.4 1424.1,1219.7 1450.7,1231.7 1477.3,1239.6 1503.9,1247.6 1530.5,1255.6 1557.1,1263.6 1580.0,1267.5 1608.8,1271.1 1642.4,1278.3 1675.9,1284.3 1709.5,1290.3 1743.1,1295.1 1776.6,1301.1 1810.2,1309.5 1843.8,1321.5 1878.6,1331.1 1887.0,1339.4 1913.3,1375.4" fill="none" stroke="#b40f3c" stroke-width="5" stroke-linejoin="round" stroke-linecap="round"/>
<polyline points="1239.0,1397.9 1580.0,1397.0 1913.3,1389.8" fill="none" stroke="#b40f3c" stroke-width="5" stroke-linejoin="round" stroke-linecap="round"/>
<rect x="1238.2" y="880.3" width="708.8" height="543.9" fill="none" stroke="#000" stroke-width="4.5"/>
<line x1="1238.2" y1="989.1" x2="1257.2" y2="989.1" stroke="#000" stroke-width="4"/>
<line x1="1238.2" y1="1097.9" x2="1257.2" y2="1097.9" stroke="#000" stroke-width="4"/>
<line x1="1238.2" y1="1206.6" x2="1257.2" y2="1206.6" stroke="#000" stroke-width="4"/>
<line x1="1238.2" y1="1315.4" x2="1257.2" y2="1315.4" stroke="#000" stroke-width="4"/>
<line x1="1373.2" y1="1424.2" x2="1373.2" y2="1405.2" stroke="#000" stroke-width="4"/>
<line x1="1508.2" y1="1424.2" x2="1508.2" y2="1405.2" stroke="#000" stroke-width="4"/>
<line x1="1643.2" y1="1424.2" x2="1643.2" y2="1405.2" stroke="#000" stroke-width="4"/>
<line x1="1778.2" y1="1424.2" x2="1778.2" y2="1405.2" stroke="#000" stroke-width="4"/>
<text transform="translate(1212.7,901.3) scale(1,1.045)" font-size="66.5" text-anchor="end">5</text>
<text transform="translate(1211.3,1010.1) scale(1,1.045)" font-size="66.5" text-anchor="end">4</text>
<text transform="translate(1212.7,1118.9) scale(1,1.045)" font-size="66.5" text-anchor="end">3</text>
<text transform="translate(1214.0,1227.6) scale(1,1.045)" font-size="66.5" text-anchor="end">2</text>
<text transform="translate(1214.0,1336.4) scale(1,1.045)" font-size="66.5" text-anchor="end">1</text>
<text transform="translate(1180.9,1495.0) scale(1,1.045)" font-size="66.5">0</text>
<text transform="translate(1362.7,1495.0) scale(1,1.045)" font-size="66.5">4</text>
<text transform="translate(1504.6,1495.0) scale(1,1.045)" font-size="66.5">8</text>
<text transform="translate(1630.4,1495.0) scale(1,1.045)" font-size="66.5">12</text>
<text transform="translate(1770.5,1495.0) scale(1,1.045)" font-size="66.5">16</text>
<text transform="translate(1910.9,1495.0) scale(1,1.045)" font-size="66.5">21</text>
<text transform="translate(1544.1,1561.8) scale(1,1.0)" font-size="66.5"><tspan font-style="italic">z</tspan>/m</text>
<text transform="translate(1140.4,1440.8) rotate(-90) scale(1,1.0)" font-size="66.5">Peak impulse/(kPa·s)</text>
<line x1="1485.8" y1="924.7" x2="1567.8" y2="924.7" stroke="#b40f3c" stroke-width="4.5"/>
<circle cx="1528.7" cy="997.0" r="7" fill="#e8102c"/>
<text transform="translate(1584.7,948.0) scale(1,1.0)" font-size="66.5">OpenFOAM</text>
<text transform="translate(1584.7,1017.0) scale(1,1.0)" font-size="66.5">GNN</text>
<text transform="translate(1385.5,1180.1) scale(1,1.0)" font-size="66.5" font-style="italic">y</text>
<text transform="translate(1416.0,1194.6) scale(1,1.0)" font-size="41">1</text>
<text transform="translate(1434.6,1180.1) scale(1,1.0)" font-size="66.5">: front surface</text>
<text transform="translate(1377.6,1368.6) scale(1,1.0)" font-size="66.5" font-style="italic">y</text>
<text transform="translate(1408.1,1383.1) scale(1,1.0)" font-size="41">2</text>
<text transform="translate(1427.7,1368.6) scale(1,1.0)" font-size="66.5">: back surface</text>
<line x1="2248.0" y1="1097.9" x2="2956.4" y2="1097.9" stroke="#dedede" stroke-width="3" stroke-dasharray="24 16"/>
<line x1="2382.9" y1="1040.0" x2="2382.9" y2="1424.4" stroke="#dedede" stroke-width="3"/>
<line x1="2517.9" y1="1040.0" x2="2517.9" y2="1424.4" stroke="#dedede" stroke-width="3"/>
<line x1="2652.8" y1="1040.0" x2="2652.8" y2="1424.4" stroke="#dedede" stroke-width="3"/>
<circle cx="2281.7" cy="1203.5" r="7" fill="#e8102c"/>
<circle cx="2315.5" cy="1203.5" r="7" fill="#e8102c"/>
<circle cx="2349.2" cy="1203.5" r="7" fill="#e8102c"/>
<circle cx="2382.9" cy="1203.5" r="7" fill="#e8102c"/>
<circle cx="2416.7" cy="1203.5" r="7" fill="#e8102c"/>
<circle cx="2450.4" cy="1205.6" r="7" fill="#e8102c"/>
<circle cx="2484.1" cy="1204.5" r="7" fill="#e8102c"/>
<circle cx="2517.9" cy="1203.5" r="7" fill="#e8102c"/>
<circle cx="2551.6" cy="1203.5" r="7" fill="#e8102c"/>
<circle cx="2585.3" cy="1202.5" r="7" fill="#e8102c"/>
<circle cx="2619.1" cy="1203.5" r="7" fill="#e8102c"/>
<circle cx="2652.8" cy="1202.1" r="7" fill="#e8102c"/>
<circle cx="2686.5" cy="1206.3" r="7" fill="#e8102c"/>
<circle cx="2720.3" cy="1203.5" r="7" fill="#e8102c"/>
<circle cx="2754.0" cy="1202.6" r="7" fill="#e8102c"/>
<circle cx="2787.7" cy="1202.1" r="7" fill="#e8102c"/>
<circle cx="2821.5" cy="1207.7" r="7" fill="#e8102c"/>
<circle cx="2855.2" cy="1212.0" r="7" fill="#e8102c"/>
<circle cx="2888.9" cy="1213.4" r="7" fill="#e8102c"/>
<circle cx="2922.7" cy="1216.2" r="7" fill="#e8102c"/>
<circle cx="2281.7" cy="1379.7" r="7" fill="#e8102c"/>
<circle cx="2315.5" cy="1379.7" r="7" fill="#e8102c"/>
<circle cx="2349.2" cy="1379.7" r="7" fill="#e8102c"/>
<circle cx="2382.9" cy="1379.7" r="7" fill="#e8102c"/>
<circle cx="2416.7" cy="1379.7" r="7" fill="#e8102c"/>
<circle cx="2450.4" cy="1379.7" r="7" fill="#e8102c"/>
<circle cx="2484.1" cy="1379.7" r="7" fill="#e8102c"/>
<circle cx="2517.9" cy="1379.7" r="7" fill="#e8102c"/>
<circle cx="2551.6" cy="1379.7" r="7" fill="#e8102c"/>
<circle cx="2585.3" cy="1374.3" r="7" fill="#e8102c"/>
<circle cx="2619.1" cy="1373.6" r="7" fill="#e8102c"/>
<circle cx="2652.8" cy="1371.6" r="7" fill="#e8102c"/>
<circle cx="2686.5" cy="1369.4" r="7" fill="#e8102c"/>
<circle cx="2720.3" cy="1367.9" r="7" fill="#e8102c"/>
<circle cx="2754.0" cy="1365.1" r="7" fill="#e8102c"/>
<circle cx="2787.7" cy="1362.3" r="7" fill="#e8102c"/>
<circle cx="2821.5" cy="1359.4" r="7" fill="#e8102c"/>
<circle cx="2855.2" cy="1355.2" r="7" fill="#e8102c"/>
<circle cx="2888.9" cy="1353.8" r="7" fill="#e8102c"/>
<circle cx="2922.7" cy="1345.3" r="7" fill="#e8102c"/>
<polyline points="2249.0,1219.5 2332.4,1220.1 2417.8,1218.4 2503.2,1214.2 2590.0,1207.7 2652.4,1203.5 2717.6,1197.8 2788.5,1192.1 2845.2,1186.5 2887.7,1180.8 2901.9,1180.8 2923.1,1185.1" fill="none" stroke="#b40f3c" stroke-width="5" stroke-linejoin="round" stroke-linecap="round"/>
<polyline points="2249.0,1380.7 2375.1,1381.8 2503.2,1380.7 2590.0,1376.4 2652.4,1372.2 2717.6,1367.9 2788.5,1358.0 2845.2,1349.5 2923.1,1338.2" fill="none" stroke="#b40f3c" stroke-width="5" stroke-linejoin="round" stroke-linecap="round"/>
<rect x="2248.0" y="880.3" width="708.4" height="544.1" fill="none" stroke="#000" stroke-width="4.5"/>
<line x1="2248.0" y1="989.1" x2="2267.0" y2="989.1" stroke="#000" stroke-width="4"/>
<line x1="2248.0" y1="1097.9" x2="2267.0" y2="1097.9" stroke="#000" stroke-width="4"/>
<line x1="2248.0" y1="1206.8" x2="2267.0" y2="1206.8" stroke="#000" stroke-width="4"/>
<line x1="2248.0" y1="1315.6" x2="2267.0" y2="1315.6" stroke="#000" stroke-width="4"/>
<line x1="2382.9" y1="1424.4" x2="2382.9" y2="1405.4" stroke="#000" stroke-width="4"/>
<line x1="2517.9" y1="1424.4" x2="2517.9" y2="1405.4" stroke="#000" stroke-width="4"/>
<line x1="2652.8" y1="1424.4" x2="2652.8" y2="1405.4" stroke="#000" stroke-width="4"/>
<line x1="2787.7" y1="1424.4" x2="2787.7" y2="1405.4" stroke="#000" stroke-width="4"/>
<text transform="translate(2224.7,901.3) scale(1,1.045)" font-size="66.5" text-anchor="end">150</text>
<text transform="translate(2224.7,1010.1) scale(1,1.045)" font-size="66.5" text-anchor="end">120</text>
<text transform="translate(2224.7,1118.9) scale(1,1.045)" font-size="66.5" text-anchor="end">90</text>
<text transform="translate(2224.7,1227.8) scale(1,1.045)" font-size="66.5" text-anchor="end">60</text>
<text transform="translate(2224.7,1336.6) scale(1,1.045)" font-size="66.5" text-anchor="end">30</text>
<text transform="translate(2191.1,1495.0) scale(1,1.045)" font-size="66.5">0</text>
<text transform="translate(2372.6,1495.0) scale(1,1.045)" font-size="66.5">4</text>
<text transform="translate(2514.7,1495.0) scale(1,1.045)" font-size="66.5">8</text>
<text transform="translate(2640.6,1495.0) scale(1,1.045)" font-size="66.5">12</text>
<text transform="translate(2779.8,1495.0) scale(1,1.045)" font-size="66.5">16</text>
<text transform="translate(2919.4,1495.0) scale(1,1.045)" font-size="66.5">21</text>
<text transform="translate(2553.4,1576.5) scale(1,1.0)" font-size="66.5"><tspan font-style="italic">z</tspan>/m</text>
<text transform="translate(2101.7,1364.9) rotate(-90) scale(1,1.0)" font-size="66.5">Arrival time/ms</text>
<line x1="2500.5" y1="924.7" x2="2584.3" y2="924.7" stroke="#b40f3c" stroke-width="4.5"/>
<circle cx="2543.8" cy="996.5" r="7" fill="#e8102c"/>
<text transform="translate(2600.3,948.0) scale(1,1.0)" font-size="66.5">OpenFOAM</text>
<text transform="translate(2600.3,1017.0) scale(1,1.0)" font-size="66.5">GNN</text>
<text transform="translate(2369.5,1169.0) scale(1,1.0)" font-size="66.5" font-style="italic">y</text>
<text transform="translate(2400.0,1183.5) scale(1,1.0)" font-size="41">1</text>
<text transform="translate(2418.5,1169.0) scale(1,1.0)" font-size="66.5">: front surface</text>
<text transform="translate(2365.5,1354.0) scale(1,1.0)" font-size="66.5" font-style="italic">y</text>
<text transform="translate(2396.0,1368.5) scale(1,1.0)" font-size="41">2</text>
<text transform="translate(2415.2,1354.0) scale(1,1.0)" font-size="66.5">: back surface</text>
<line x1="3075.5" y1="134.4" x2="3157.5" y2="134.4" stroke="#1c28c8" stroke-width="8.5"/>
<line x1="3075.5" y1="296.0" x2="3157.5" y2="296.0" stroke="#e01020" stroke-width="8.5"/>
<text transform="translate(3180.4,156.3) scale(1,1.0)" font-size="66.5">Ground surface</text>
<text transform="translate(3181.3,222.3) scale(1,1.0)" font-size="66.5">sampling line</text>
<text transform="translate(3181.1,318.2) scale(1,1.0)" font-size="66.5">Building surface</text>
<text transform="translate(3181.3,384.2) scale(1,1.0)" font-size="66.5">sampling line</text>
<rect x="3112.0" y="1136.0" width="72.0" height="8.0" fill="#e2e2e2"/>
<rect x="3248.0" y="1136.0" width="72.0" height="8.0" fill="#e2e2e2"/>
<rect x="3384.0" y="1136.0" width="72.0" height="8.0" fill="#e2e2e2"/>
<rect x="3552.0" y="1136.0" width="40.0" height="8.0" fill="#e2e2e2"/>
<rect x="3696.0" y="1136.0" width="64.0" height="8.0" fill="#e2e2e2"/>
<rect x="3066.0" y="789.0" width="703.0" height="9.0" fill="#e8e8e8"/>
<rect x="3071.0" y="464.0" width="696.0" height="7.5" fill="#e2e2e2"/>
<line x1="3063.5" y1="772.5" x2="3772.0" y2="772.5" stroke="#ffd6dc" stroke-width="5"/>
<line x1="3063.5" y1="779.6" x2="3772.0" y2="779.6" stroke="#1a1ae0" stroke-width="7"/>
<polyline points="3243.5,745.1 3275.2,753.4 3298.0,772.0 3305.6,778.8 3309.7,811.3 3305.6,847.1 3280.7,874.7 3243.5,885.7 3206.3,877.4 3178.8,849.9 3169.1,822.3 3174.6,792.0 3178.8,779.6 3203.6,754.8 3243.5,745.1" fill="none" stroke="#222" stroke-width="1.8" stroke-linejoin="round" stroke-linecap="round"/>
<circle cx="3305.6" cy="778.8" r="5.5" fill="#e81010"/>
<circle cx="3178.8" cy="778.8" r="5.5" fill="#e81010"/>
<circle cx="3419.0" cy="816.2" r="11" fill="#e81010"/>
<line x1="3431.5" y1="824.8" x2="3546.7" y2="940.8" stroke="#000" stroke-width="3.5"/>
<text transform="translate(3478.4,831.0) scale(1,1.0)" font-size="66.5" font-style="italic">x</text>
<text transform="translate(3506.7,831.0) scale(1,1.0)" font-size="66.5">=55 m</text>
<text transform="translate(3289.8,983.5) scale(1,1.0)" font-size="66.5">Explosive source</text>
<text transform="translate(3145.0,745.5) scale(1,1.0)" font-size="60" font-style="italic">y</text>
<text transform="translate(3172.6,759.5) scale(1,1.0)" font-size="34">2</text>
<text transform="translate(3300.7,737.0) scale(1,1.0)" font-size="60" font-style="italic">y</text>
<text transform="translate(3328.3,751.0) scale(1,1.0)" font-size="36">1</text>
<rect x="3063.5" y="460.5" width="708.5" height="707.7" fill="none" stroke="#000" stroke-width="5"/>
<text transform="translate(1414.7,805.0) scale(1,1.0)" font-size="66.5">(a) Ground</text>
<text transform="translate(1198.1,1656.4) scale(1,1.0)" font-size="66.5">(b) Front and back surfaces</text>
</svg></body></html>
